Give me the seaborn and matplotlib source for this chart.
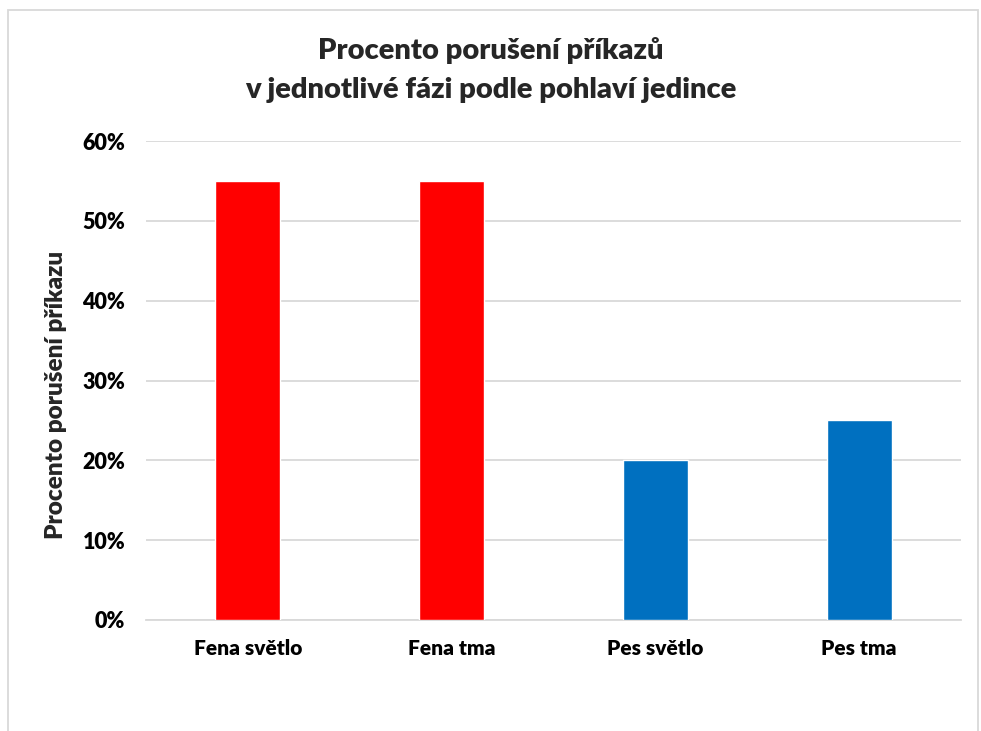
import matplotlib
matplotlib.use("Agg")
import matplotlib.pyplot as plt
import seaborn as sns
import pandas as pd
from matplotlib.patches import Rectangle
from matplotlib.ticker import PercentFormatter

categories = ["Fena světlo", "Fena tma", "Pes světlo", "Pes tma"]
values = [55, 55, 20, 25]
colors = ["#FF0000", "#FF0000", "#0070C0", "#0070C0"]
yticks = [0, 10, 20, 30, 40, 50, 60]

sns.set_theme(style="white")
plt.rcParams['font.family'] = ['Lato', 'DejaVu Sans']
W = "heavy"

df = pd.DataFrame({"cat": categories, "val": values})

fig = plt.figure(figsize=(9.81, 7.31), dpi=100)
ax = fig.add_axes([146/981, 1-620/731, 815/981, (620-141)/731])

sns.barplot(data=df, x="cat", y="val", hue="cat", palette=colors, legend=False,
            width=0.32, ax=ax, saturation=1, zorder=3)

ax.set_ylim(0, 60)
ax.set_yticks(yticks)
ax.yaxis.set_major_formatter(PercentFormatter(decimals=0))
ax.grid(axis="y", color="#D9D9D9", linewidth=1.3, zorder=0)
ax.set_axisbelow(True)
for s in ["top", "right", "left"]:
    ax.spines[s].set_visible(False)
ax.spines["bottom"].set_color("#D9D9D9")
ax.spines["bottom"].set_linewidth(1.3)
ax.tick_params(axis="both", length=0, colors="black")
ax.tick_params(axis="y", pad=15, labelsize=15.5)
ax.tick_params(axis="x", pad=14, labelsize=15)
for lbl in ax.get_xticklabels() + ax.get_yticklabels():
    lbl.set_fontweight(W)
ax.set_xlabel("")
ax.set_ylabel("Procento porušení příkazu", fontsize=17.5, fontweight=W)
ax.yaxis.set_label_coords(-0.097, 0.47)

fig.text(0.5, 1-50/731, "Procento porušení příkazů", ha="center", va="center",
         fontsize=21, fontweight=W)
fig.text(0.5, 1-90/731, "v jednotlivé fázi podle pohlaví jedince", ha="center", va="center",
         fontsize=21, fontweight=W)

fig.patches.append(Rectangle((8/981, -0.05), 970/981, 1.05 - 10/731, transform=fig.transFigure,
                             fill=False, edgecolor="#D9D9D9", linewidth=1.3))

fig.savefig("out.png", dpi=100)
